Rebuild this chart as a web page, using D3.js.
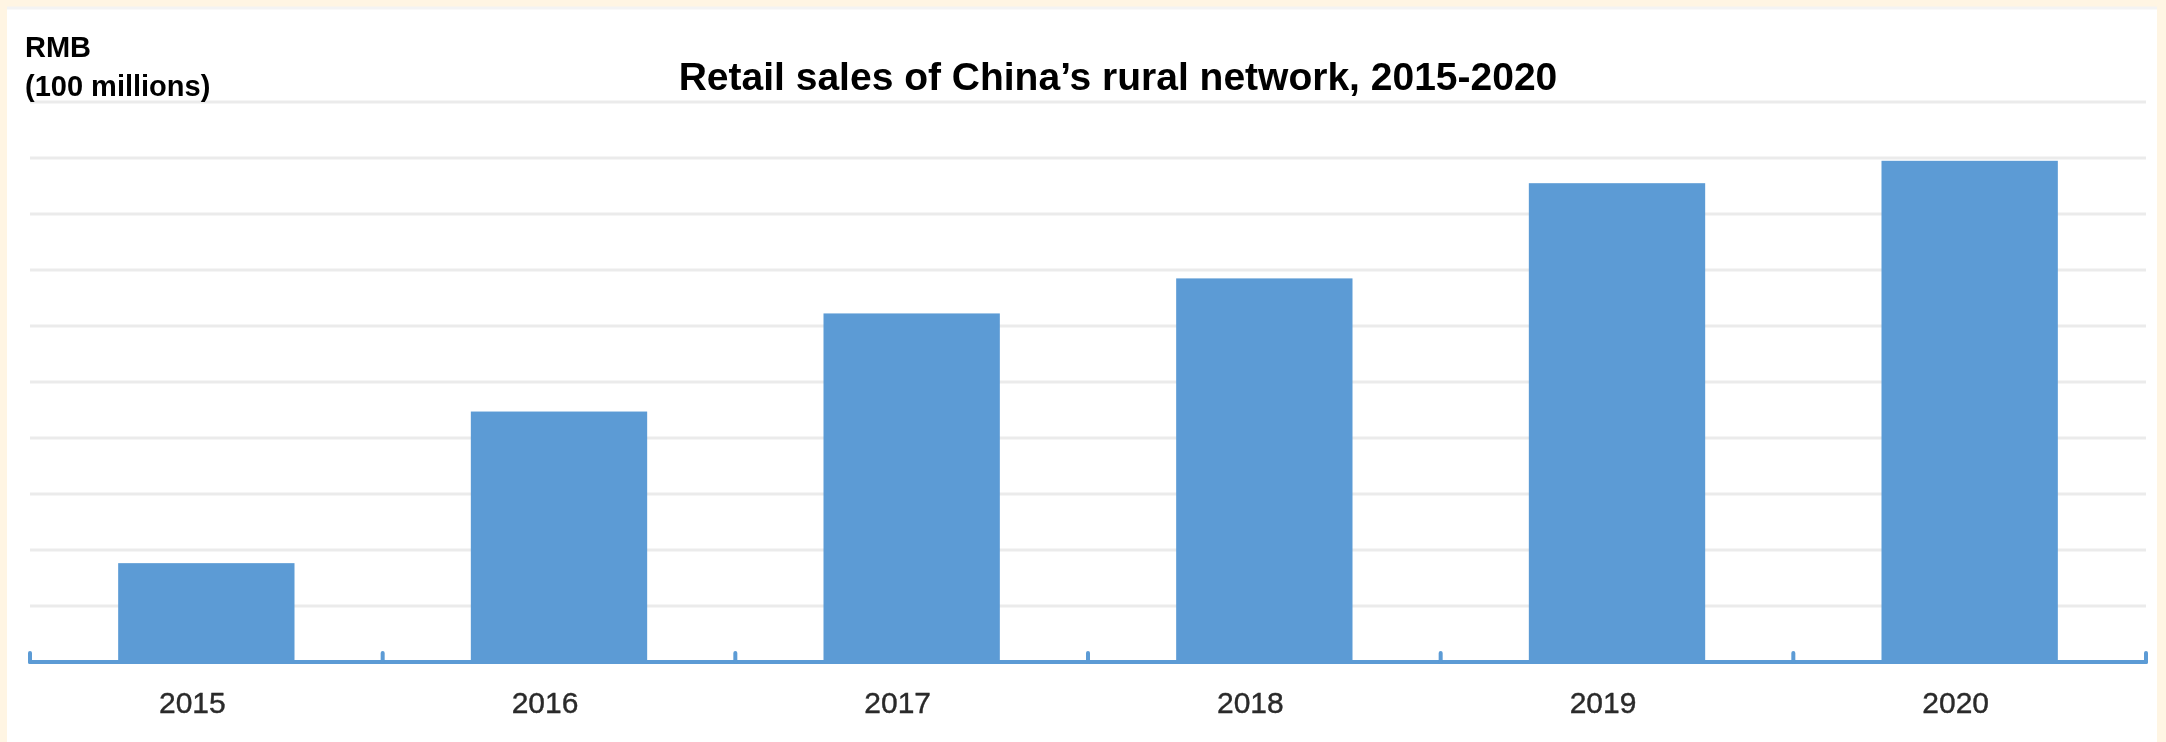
<!DOCTYPE html>
<html>
<head>
<meta charset="utf-8">
<script src="https://cdn.jsdelivr.net/npm/d3@7"></script>
<style>
  html, body { margin: 0; padding: 0; background: #fff5e3; }
  svg { display: block; }
</style>
</head>
<body>
<svg id="chart" width="2166" height="742"></svg>
<script>
// Retail sales of China's rural network (RMB 100 millions)
const years = ["2015", "2016", "2017", "2018", "2019", "2020"];
const sales = [3530, 8945, 12449, 13700, 17100, 17900];
const gridValues = [2000, 4000, 6000, 8000, 10000, 12000, 14000, 16000, 18000, 20000];

const W = 2166, H = 742;
const svg = d3.select("#chart");

const defs = svg.append("defs");
defs.append("filter").attr("id", "soft")
  .attr("x", "-5%").attr("y", "-5%").attr("width", "110%").attr("height", "110%")
  .append("feGaussianBlur").attr("stdDeviation", 0.7);

// white panel inside the cream frame
svg.append("rect")
  .attr("x", 7).attr("y", 7).attr("width", W - 16).attr("height", H - 7)
  .attr("fill", "#ffffff");
svg.append("line")
  .attr("x1", 7).attr("x2", W - 9).attr("y1", 8).attr("y2", 8)
  .attr("stroke", "#f3f3f3").attr("stroke-width", 3);

const root = svg.append("g").attr("filter", "url(#soft)");

const x = d3.scaleBand()
  .domain(years)
  .range([30, 2146])
  .paddingInner(0.5)
  .paddingOuter(0.25);

const y = d3.scaleLinear()
  .domain([0, 20000])
  .range([662, 102]);

// horizontal gridlines
root.append("g")
  .selectAll("line")
  .data(gridValues)
  .join("line")
  .attr("x1", x.range()[0]).attr("x2", x.range()[1])
  .attr("y1", d => y(d)).attr("y2", d => y(d))
  .attr("stroke", "#ebebeb")
  .attr("stroke-width", 3);

// bars
root.append("g")
  .selectAll("rect")
  .data(years.map((yr, i) => ({ yr, v: sales[i] })))
  .join("rect")
  .attr("x", d => x(d.yr))
  .attr("width", x.bandwidth())
  .attr("y", d => y(d.v))
  .attr("height", d => y(0) - y(d.v))
  .attr("fill", "#5b9bd5");

// category axis: baseline with upward ticks at band boundaries
const axisG = root.append("g");
axisG.append("line")
  .attr("x1", x.range()[0]).attr("x2", x.range()[1])
  .attr("y1", y(0)).attr("y2", y(0))
  .attr("stroke", "#5b9bd5").attr("stroke-width", 4)
  .attr("stroke-linecap", "round");
axisG.selectAll("line.tick-mark")
  .data(d3.range(years.length + 1))
  .join("line")
  .attr("class", "tick-mark")
  .attr("x1", i => x.range()[0] + i * x.step())
  .attr("x2", i => x.range()[0] + i * x.step())
  .attr("y1", y(0)).attr("y2", y(0) - 9)
  .attr("stroke", "#5b9bd5").attr("stroke-width", 4)
  .attr("stroke-linecap", "round");

const labels = root.append("g")
  .attr("transform", `translate(0,${y(0)})`)
  .call(d3.axisBottom(x).tickSize(0).tickSizeOuter(0));
labels.select(".domain").remove();
labels.selectAll("text")
  .attr("y", 51).attr("dy", 0).attr("dx", -14)
  .attr("fill", "#2a2a2a")
  .attr("stroke", "#2a2a2a").attr("stroke-width", 0.4)
  .style("font-family", "'Liberation Sans', Arial, sans-serif")
  .style("font-size", "30px");

// unit label
const unit = root.append("text")
  .attr("fill", "#000")
  .style("font-family", "'Liberation Sans', Arial, sans-serif")
  .style("font-weight", "bold")
  .style("font-size", "29px");
unit.append("tspan").attr("x", 25).attr("y", 57).text("RMB");
unit.append("tspan").attr("x", 25).attr("y", 96).text("(100 millions)");

// title
root.append("text")
  .attr("x", 1118).attr("y", 90)
  .attr("text-anchor", "middle")
  .attr("fill", "#000")
  .style("font-family", "'Liberation Sans', Arial, sans-serif")
  .style("font-weight", "bold")
  .style("font-size", "39px")
  .text("Retail sales of China’s rural network, 2015-2020");
</script>
</body>
</html>
